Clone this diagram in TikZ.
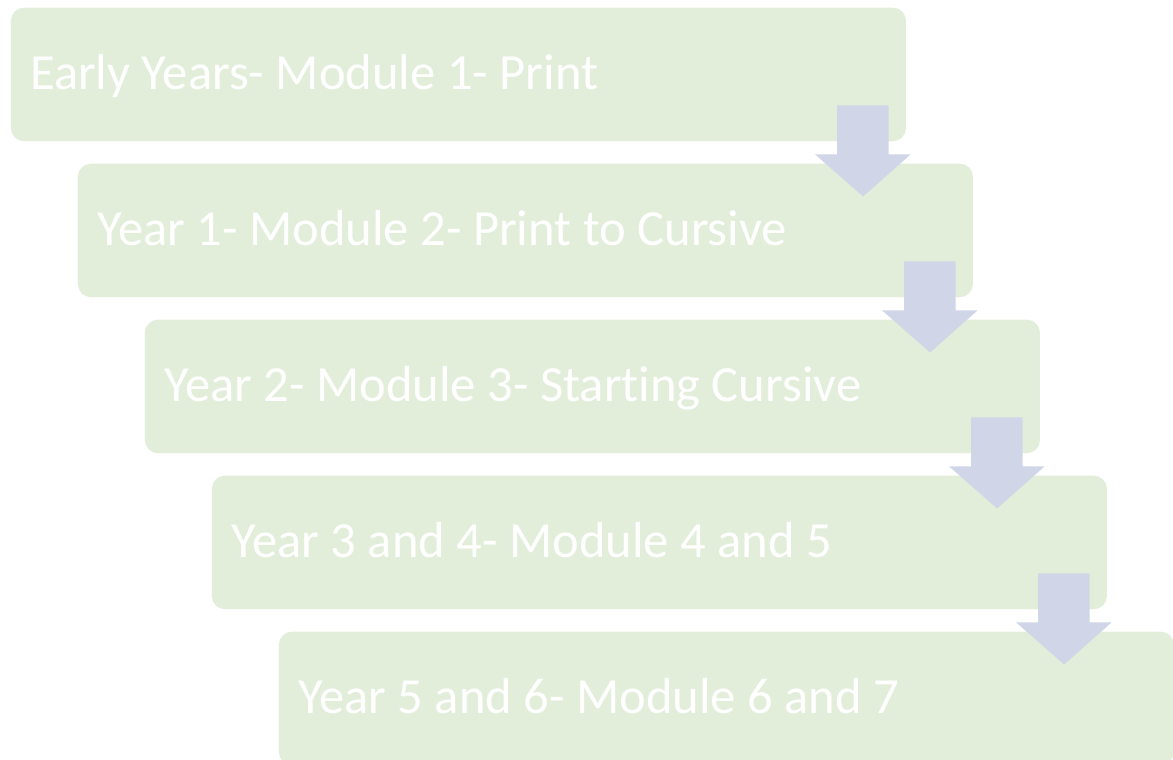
\documentclass[tikz,border=0pt]{standalone}
\usepackage{fontspec}
\setmainfont[Ligatures=NoCommon]{Carlito}
\usetikzlibrary{calc}
\definecolor{boxgreen}{RGB}{226,238,218}
\definecolor{arrowblue}{RGB}{208,214,232}
\tikzset{
  stagebox/.style={fill=boxgreen, draw=none, rounded corners=13pt, minimum width=895pt, minimum height=133.5pt, anchor=north west, inner sep=0pt},
  stagetext/.style={anchor=base west, text=white, inner sep=0pt, font=\fontsize{50.6}{60}\selectfont},
  blockarrow/.style={fill=arrowblue, draw=none}
}
\begin{document}
\begin{tikzpicture}[x=1pt,y=-1pt]
\clip (0,0) rectangle (1173,760);
\fill[white] (0,0) rectangle (1173,760);
\foreach \i/\txt [count=\k from 0] in {1/{Early Years- Module 1- Print},2/{Year 1- Module 2- Print to Cursive},3/{Year 2- Module 3- Starting Cursive},4/{Year 3 and 4- Module 4 and 5},5/{Year 5 and 6- Module 6 and 7}}{
  \node[stagebox] (b\i) at ({10.7+67*\k},{7.5+156*\k}) {};
  \node[stagetext] (t\i) at ($(b\i.north west)+(19.3,81.8)$) {\txt};
}
\foreach \a/\b in {1/2,2/3,3/4,4/5}{
  \coordinate (c\a) at (b\a.south east);
  \coordinate (d\b) at (b\b.north east);
  \fill[blockarrow] ($(c\a)+(-69,-36)$) -- ($(c\a)+(-17.5,-36)$)
    -- ($(c\a)+(-17.5,13)$) -- ($(c\a)+(4.5,13)$)
    -- ($(d\b)+(-110,33)$) -- ($(c\a)+(-91,13)$)
    -- ($(c\a)+(-69,13)$) -- cycle;
}
\end{tikzpicture}
\end{document}
